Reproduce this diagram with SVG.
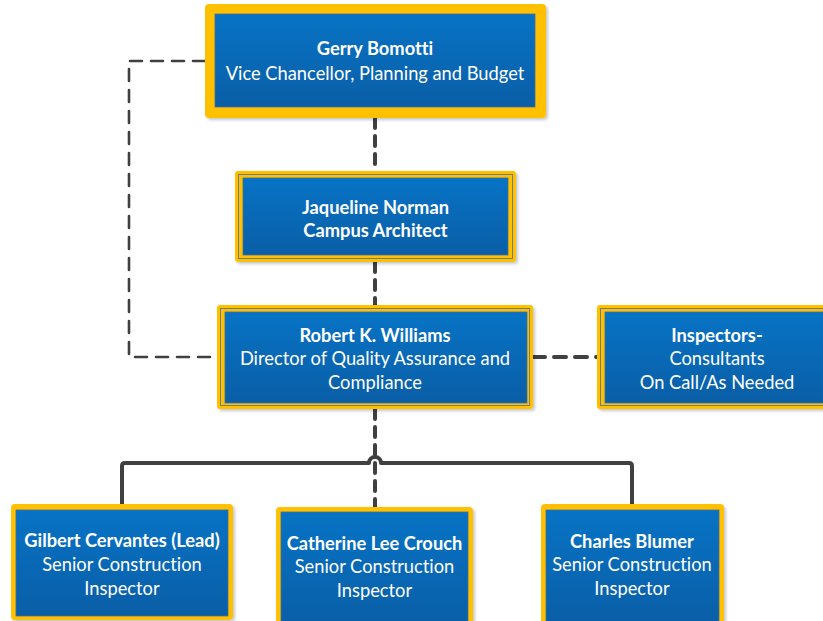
<svg xmlns="http://www.w3.org/2000/svg" width="823" height="621" viewBox="0 0 823 621">
<defs>
<linearGradient id="blue" x1="0" y1="0" x2="0" y2="1">
<stop offset="0" stop-color="#0773C5"/>
<stop offset="1" stop-color="#0A5EA6"/>
</linearGradient>
<filter id="sh" x="-5%" y="-5%" width="115%" height="120%">
<feDropShadow dx="2" dy="2" stdDeviation="1.5" flood-color="#000" flood-opacity="0.22"/>
</filter>
<style>
.y{fill:#FFC000;filter:url(#sh)}
.b{fill:url(#blue);stroke:#3f6f98;stroke-width:0.8}
.dl{fill:none;stroke:#5f7894;stroke-width:0.9}
text{font-family:Lato,"Open Sans","Liberation Sans",sans-serif;font-size:18.3px;fill:#fff;text-anchor:middle;font-variant-ligatures:none;font-feature-settings:"liga" 0,"dlig" 0}
.t{font-weight:bold}
.c{fill:none;stroke:#404040;stroke-linecap:round;stroke-linejoin:round}
</style>
</defs>
<rect width="823" height="621" fill="#fff"/>
<g id="connectors">
<path class="c" d="M375 118V171" stroke-width="4" stroke-dasharray="10 8" stroke-linecap="butt"/>
<path class="c" d="M375 262V305" stroke-width="4" stroke-dasharray="10 8" stroke-linecap="butt"/>
<path class="c" d="M205 61H129V357H217" stroke-width="2.6" stroke-dasharray="12 9" stroke-linecap="butt"/>
<path class="c" d="M533 357H597" stroke-width="4" stroke-dasharray="12 9" stroke-linecap="butt"/>
<path class="c" d="M375 409V507" stroke-width="4" stroke-dasharray="10 8" stroke-linecap="butt"/>
<path class="c" d="M122 504V466Q122 463 125 463H369A6 6 0 0 1 381 463H629Q632 463 632 466V504" stroke-width="4"/>
</g>
<g id="gerry">
<rect class="y" x="205" y="4" width="341" height="114" rx="4"/>
<rect class="b" x="215" y="14" width="320" height="93"/>
<text class="t" x="375" y="55">Gerry Bomotti</text>
<text x="375" y="80">Vice Chancellor, Planning and Budget</text>
</g>
<g id="jaqueline">
<rect class="y" x="235" y="171" width="281" height="91" rx="3"/>
<rect class="dl" x="238.5" y="174.5" width="274" height="84"/>
<rect class="b" x="243" y="178" width="265" height="77"/>
<text class="t" x="375.5" y="214">Jaqueline Norman</text>
<text class="t" x="375.5" y="237">Campus Architect</text>
</g>
<g id="robert">
<rect class="y" x="217" y="305" width="316" height="104" rx="3"/>
<rect class="dl" x="220.5" y="308.5" width="309" height="97"/>
<rect class="b" x="225" y="312" width="302" height="91"/>
<text class="t" x="375" y="342">Robert K. Williams</text>
<text x="375" y="365">Director of Quality Assurance and</text>
<text x="375" y="389">Compliance</text>
</g>
<g id="inspectors">
<rect class="y" x="597" y="305" width="245" height="104" rx="3"/>
<rect class="dl" x="600.5" y="308.5" width="238" height="97"/>
<rect class="b" x="605" y="312" width="230" height="91"/>
<text class="t" x="717" y="342">Inspectors-</text>
<text x="717" y="365">Consultants</text>
<text x="717" y="389">On Call/As Needed</text>
</g>
<g id="gilbert">
<rect class="y" x="11" y="504" width="222" height="116" rx="4"/>
<rect class="b" x="16" y="510" width="212" height="106"/>
<text class="t" x="122" y="547">Gilbert Cervantes (Lead)</text>
<text x="122" y="571">Senior Construction</text>
<text x="122" y="595">Inspector</text>
</g>
<g id="catherine">
<rect class="y" x="276" y="507" width="197" height="125" rx="4"/>
<rect class="b" x="281" y="512" width="187" height="115"/>
<text class="t" x="374.5" y="550">Catherine Lee Crouch</text>
<text x="374.5" y="573">Senior Construction</text>
<text x="374.5" y="597">Inspector</text>
</g>
<g id="charles">
<rect class="y" x="541" y="504" width="183" height="125" rx="4"/>
<rect class="b" x="546" y="510" width="173" height="115"/>
<text class="t" x="632" y="548">Charles Blumer</text>
<text x="632" y="571">Senior Construction</text>
<text x="632" y="595">Inspector</text>
</g>
</svg>
